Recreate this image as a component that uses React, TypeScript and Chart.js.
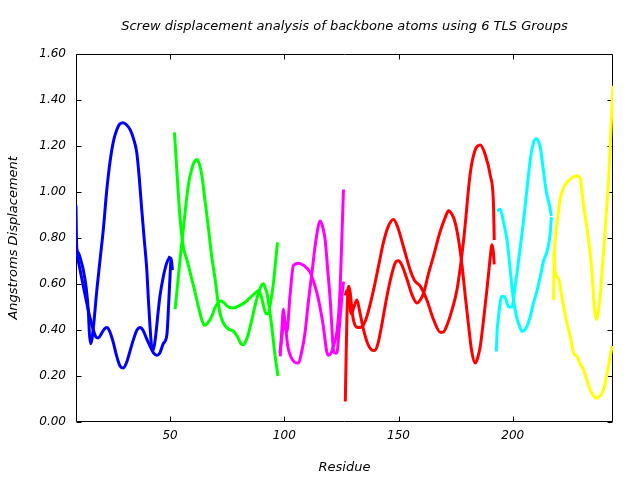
import React, { useEffect, useRef } from "react";
import { Chart, registerables } from "chart.js";

Chart.register(...registerables);

type P = [number, number];

const titleText = "Screw displacement analysis of backbone atoms using 6 TLS Groups";
const xTitle = "Residue";
const yTitle = "Angstroms Displacement";
const xTicks = [50, 100, 150, 200];
const yMin = 0;
const yMax = 1.6;
const yStep = 0.2;
const xMin = 8.8;
const xMax = 243.9;

const blueA: P[] = [
  [8.8, 0.94], [9.1, 0.76], [9.8, 0.735], [11, 0.7], [12, 0.66], [13.3, 0.58], [14.2, 0.48], [14.7, 0.38],
  [15.2, 0.34], [15.8, 0.36], [16.4, 0.41], [18, 0.58], [19.5, 0.72], [20.8, 0.84], [22.2, 1.0], [23.7, 1.13],
  [25.2, 1.22], [26.7, 1.27], [28, 1.295], [29.5, 1.3], [31, 1.29], [32.5, 1.27], [34, 1.23], [35.4, 1.17],
  [36.5, 1.06], [37.6, 0.92], [38.7, 0.79], [39.8, 0.66], [40.5, 0.53], [41.2, 0.415], [42, 0.32], [42.6, 0.31],
  [43.5, 0.36], [45, 0.5], [45.6, 0.55], [47, 0.63], [48.5, 0.69], [50, 0.72],
];
const blueB: P[] = [
  [9.1, 0.735], [10.6, 0.66], [12, 0.59], [13.5, 0.517], [15, 0.45], [16.4, 0.4], [17.5, 0.37], [18.6, 0.365],
  [20, 0.385], [21.3, 0.405], [22.3, 0.41], [23.5, 0.395], [25, 0.35], [26.5, 0.29], [28, 0.245], [29.5, 0.234],
  [31, 0.26], [32.5, 0.31], [34, 0.36], [35.5, 0.4], [36.9, 0.41], [38.3, 0.395], [39.8, 0.36], [41.2, 0.33],
  [42.7, 0.3], [44.2, 0.29], [45.5, 0.3], [47, 0.34], [48.6, 0.38], [49.4, 0.52], [50, 0.64], [50.5, 0.71], [51, 0.66],
];
const greenA: P[] = [
  [51.9, 1.258], [52.4, 1.18], [52.9, 1.1], [53.6, 0.99], [54.4, 0.88], [55.8, 0.76], [57.3, 0.706], [59.5, 0.62],
  [61, 0.56], [62.4, 0.5], [63.7, 0.45], [65, 0.42], [66.5, 0.43], [68.3, 0.46], [69.8, 0.5], [71.2, 0.52],
  [72.3, 0.525], [73.3, 0.52], [75.5, 0.5], [77.7, 0.495], [80.3, 0.505], [82.9, 0.52], [85, 0.54], [87.2, 0.56],
  [88.6, 0.57], [89.8, 0.55], [91, 0.5], [92, 0.47], [93, 0.47], [94, 0.52], [95.2, 0.6], [96.2, 0.7], [97, 0.78],
];
const greenB: P[] = [
  [52.2, 0.49], [52.9, 0.56], [53.6, 0.63], [54.7, 0.74], [55.8, 0.84], [57, 0.95], [58, 1.03], [59.5, 1.1],
  [60.6, 1.13], [61.7, 1.14], [62.8, 1.12], [63.9, 1.07], [65.3, 0.96], [66.8, 0.84], [68.2, 0.72], [69.7, 0.62],
  [71, 0.52], [71.9, 0.47], [73.3, 0.43], [74.8, 0.41], [76.2, 0.4], [77.7, 0.395], [79.5, 0.37], [81, 0.34],
  [82.1, 0.335], [83.5, 0.36], [84.7, 0.4], [85.8, 0.445], [87.3, 0.51], [88.7, 0.56], [89.8, 0.59], [90.9, 0.6],
  [91.7, 0.58], [92.4, 0.56], [93.5, 0.49], [94.5, 0.415], [95.8, 0.3], [97.2, 0.2],
];
const magentaA: P[] = [
  [98.2, 0.285], [98.8, 0.38], [99.6, 0.49], [100.3, 0.43], [101.1, 0.39], [102.5, 0.55], [104, 0.68], [106.2, 0.69],
  [108.5, 0.68], [111.3, 0.65], [112.8, 0.61], [114.3, 0.56], [115.8, 0.49], [117.1, 0.415], [118.5, 0.31],
  [119.3, 0.29], [120.5, 0.3], [121.5, 0.33], [123, 0.39], [124, 0.5], [124.5, 0.6], [125.2, 0.8], [125.9, 1.01],
];
const magentaB: P[] = [
  [98, 0.3], [98.8, 0.36], [99.5, 0.42], [100, 0.45], [100.7, 0.4], [101.5, 0.33], [103, 0.28], [104.5, 0.26],
  [106.2, 0.256], [107.5, 0.3], [109.1, 0.39], [110.5, 0.52], [112.1, 0.65], [114, 0.8], [115.7, 0.873], [117, 0.84],
  [117.9, 0.79], [119, 0.66], [120.1, 0.53], [121, 0.38], [121.5, 0.31], [122.3, 0.3], [123, 0.3], [124, 0.4],
  [125, 0.52], [125.9, 0.61],
];
const redA: P[] = [
  [126.7, 0.089], [127, 0.25], [127.4, 0.45], [127.8, 0.56], [128.3, 0.59], [129, 0.55], [129.8, 0.47], [131, 0.42],
  [132.5, 0.41], [134.5, 0.42], [136.2, 0.46], [139.1, 0.575], [141.5, 0.69], [143.4, 0.78], [145.5, 0.85],
  [147.8, 0.88], [149.5, 0.85], [152.2, 0.76], [155.1, 0.66], [157, 0.615], [159.5, 0.59], [162.4, 0.53],
  [165.3, 0.445], [168.3, 0.39], [169.5, 0.39], [171.2, 0.42], [173.5, 0.49], [175.6, 0.575], [178.5, 0.79],
  [181.4, 1.08], [183.5, 1.18], [185.8, 1.203], [188, 1.16], [190.2, 1.07], [191.6, 0.94], [191.9, 0.79],
];
const redB: P[] = [
  [126.7, 0.55], [127.3, 0.57], [128.3, 0.52], [129.3, 0.47], [130.5, 0.5], [131.8, 0.53], [133, 0.48], [134.7, 0.4],
  [136.5, 0.34], [138, 0.315], [139.5, 0.31], [141, 0.34], [143, 0.44], [145, 0.55], [147, 0.64], [148.5, 0.69],
  [150, 0.7], [151.5, 0.68], [153.7, 0.62], [156, 0.55], [158.1, 0.517], [159.5, 0.53], [161, 0.56], [163, 0.64],
  [165.3, 0.72], [168, 0.82], [170.5, 0.89], [171.9, 0.917], [173.5, 0.9], [174.8, 0.866], [176.3, 0.79],
  [177.8, 0.68], [179.3, 0.54], [180.7, 0.415], [182, 0.31], [183.6, 0.256], [184.7, 0.28], [185.8, 0.33],
  [187.3, 0.45], [188.7, 0.575], [190, 0.7], [190.9, 0.77], [191.5, 0.74], [191.9, 0.685],
];
const cyanA: P[] = [
  [193.1, 0.917], [194.5, 0.924], [196, 0.866], [197.5, 0.79], [198.9, 0.66], [200.1, 0.546], [201.6, 0.46],
  [202.8, 0.42], [204.1, 0.394], [205.2, 0.4], [206.2, 0.415], [207.7, 0.46], [209.1, 0.517], [210.6, 0.57],
  [212.1, 0.633], [213.5, 0.7], [215, 0.74], [216.4, 0.82], [216.9, 0.89],
];
const cyanB: P[] = [
  [192.8, 0.306], [193.2, 0.4], [193.8, 0.46], [194.5, 0.52], [195.3, 0.546], [196.7, 0.54], [198.2, 0.5],
  [199.7, 0.5], [200.8, 0.57], [201.9, 0.65], [203.3, 0.76], [204.8, 0.88], [206.2, 1.01], [207.7, 1.14],
  [209, 1.21], [210.3, 1.23], [211.2, 1.22], [212.1, 1.19], [213.2, 1.11], [214.7, 1.0], [216.1, 0.94], [216.9, 0.895],
];
const yellowA: P[] = [
  [217.9, 0.53], [218, 0.63], [218.2, 0.735], [218.8, 0.81], [219.4, 0.866], [220.8, 0.97], [222.3, 1.02],
  [223.7, 1.04], [225.2, 1.055], [226.7, 1.065], [228.1, 1.07], [229.6, 1.055], [230.3, 1.0], [231, 0.94],
  [232.1, 0.87], [233.2, 0.79], [234.7, 0.65], [235.7, 0.5], [236.6, 0.445], [237.6, 0.49], [238.4, 0.56],
  [239.1, 0.65], [240.5, 0.84], [241.3, 0.95], [242, 1.055], [243, 1.27], [243.9, 1.46],
];
const yellowB: P[] = [
  [217.9, 0.735], [218.6, 0.65], [220.1, 0.62], [221.2, 0.56], [222.3, 0.5], [223.7, 0.43], [225.2, 0.37],
  [226.6, 0.3], [228.1, 0.285], [229.6, 0.25], [231, 0.227], [232.5, 0.18], [233.9, 0.14], [235.3, 0.115],
  [236.6, 0.103], [237.9, 0.11], [239.1, 0.125], [240.3, 0.16], [241.3, 0.21], [242.4, 0.27], [243.5, 0.33],
];

const groups: { color: string; curves: P[][] }[] = [
  { color: "#0000ff", curves: [blueA, blueB] },
  { color: "#00ff00", curves: [greenA, greenB] },
  { color: "#ff00ff", curves: [magentaA, magentaB] },
  { color: "#ff0000", curves: [redA, redB] },
  { color: "#00ffff", curves: [cyanA, cyanB] },
  { color: "#ffff00", curves: [yellowA, yellowB] },
];

const FONT = "'DejaVu Sans', sans-serif";

const framePlugin = {
  id: "gnuframe",
  beforeDatasetsDraw(chart: any) {
    const { ctx, chartArea, scales } = chart;
    const { left, right, top, bottom } = chartArea;
    const L = Math.round(left) + 0.5;
    const R = Math.round(right) - 0.5;
    const T = Math.round(top) + 0.5;
    const B = Math.round(bottom) - 0.5;
    const len = 5;
    ctx.save();
    ctx.strokeStyle = "#000";
    ctx.lineWidth = 1;
    ctx.beginPath();
    ctx.moveTo(L, T);
    ctx.lineTo(R, T);
    ctx.lineTo(R, B);
    ctx.lineTo(L, B);
    ctx.closePath();
    for (const t of scales.y.ticks) {
      const py = Math.round(scales.y.getPixelForValue(t.value)) + 0.5;
      ctx.moveTo(L, py);
      ctx.lineTo(L + len, py);
      ctx.moveTo(R, py);
      ctx.lineTo(R - len, py);
    }
    for (const t of scales.x.ticks) {
      const px = Math.round(scales.x.getPixelForValue(t.value)) + 0.5;
      ctx.moveTo(px, B);
      ctx.lineTo(px, B - len);
      ctx.moveTo(px, T);
      ctx.lineTo(px, T + len);
    }
    ctx.stroke();
    ctx.restore();
  },
};

export default function App() {
  const ref = useRef<HTMLCanvasElement | null>(null);
  useEffect(() => {
    if (!ref.current) return;
    const datasets: any[] = [];
    groups.forEach((g) => {
      g.curves.forEach((c) => {
        datasets.push({
          data: c.map(([x, y]) => ({ x, y })),
          borderColor: g.color,
          backgroundColor: g.color,
          borderWidth: 3,
          pointRadius: 0,
          fill: false,
          cubicInterpolationMode: "monotone",
        });
      });
    });
    const chart = new Chart(ref.current, {
      type: "line",
      data: { datasets },
      options: {
        animation: false,
        responsive: false,
        devicePixelRatio: 1,
        layout: { padding: { left: 0, right: 27, top: 0, bottom: 0 } },
        plugins: {
          legend: { display: false },
          tooltip: { enabled: false },
          title: {
            display: true,
            text: titleText,
            fullSize: false,
            color: "#000",
            font: { family: FONT, size: 13, style: "italic", weight: "normal" },
            padding: { top: 19, bottom: 19 },
          },
        },
        scales: {
          x: {
            type: "linear",
            min: xMin,
            max: xMax,
            grid: { display: false, drawTicks: false },
            border: { display: false },
            afterBuildTicks: (s: any) => {
              s.ticks = xTicks.map((v) => ({ value: v }));
            },
            afterFit: (s: any) => {
              s.height = 58;
            },
            ticks: {
              color: "#000",
              padding: 7,
              maxRotation: 0,
              font: { family: FONT, size: 12, style: "italic" },
              callback: (v: any) => String(v),
            },
            title: {
              display: true,
              text: xTitle,
              color: "#000",
              font: { family: FONT, size: 13, style: "italic" },
              padding: { top: 0, bottom: 5 },
            },
          },
          y: {
            type: "linear",
            min: yMin,
            max: yMax,
            grid: { display: false, drawTicks: false },
            border: { display: false },
            afterFit: (s: any) => {
              s.width = 76;
            },
            ticks: {
              stepSize: yStep,
              color: "#000",
              padding: 10,
              font: { family: FONT, size: 12, style: "italic" },
              callback: (v: any) => Number(v).toFixed(2),
            },
            title: {
              display: true,
              text: yTitle,
              color: "#000",
              font: { family: FONT, size: 13, style: "italic" },
              padding: { top: 6, bottom: 0 },
            },
          },
        },
      },
      plugins: [framePlugin],
    } as any);
    return () => chart.destroy();
  }, []);
  return (
    <div style={{ position: "fixed", left: 0, top: 0, width: 640, height: 480, background: "#fff" }}>
      <canvas ref={ref} width={640} height={480} style={{ width: 640, height: 480 }} />
    </div>
  );
}
